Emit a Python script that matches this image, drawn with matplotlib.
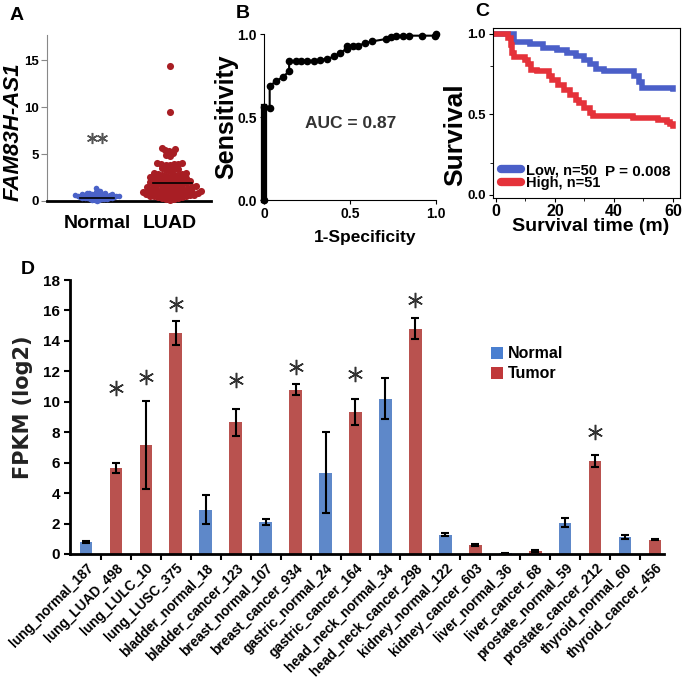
import numpy as np
import matplotlib
matplotlib.use('Agg')
import matplotlib.pyplot as plt
from matplotlib.lines import Line2D
from matplotlib.patches import Patch

plt.rcParams['font.family'] = ['Liberation Sans', 'DejaVu Sans']
plt.rcParams['font.weight'] = 'bold'
plt.rcParams['axes.labelweight'] = 'bold'

# ---- panel A: expression scatter ----
normal_vals = [1.4, 1.2, 1.1, 0.95, 0.9, 0.85, 0.8, 0.8, 0.75, 0.75, 0.7, 0.7, 0.7,
               0.65, 0.65, 0.6, 0.6, 0.6, 0.55, 0.55, 0.55, 0.5, 0.5, 0.5, 0.5,
               0.45, 0.45, 0.45, 0.4, 0.4, 0.4, 0.35, 0.35, 0.35, 0.3, 0.3, 0.3,
               0.25, 0.25, 0.2, 0.2, 0.15, 0.1, 0.1, 0.05]
luad_vals = [14.4, 9.5, 5.6, 5.5, 5.4, 5.3, 5.1, 4.9, 4.8, 4.0, 4.0, 3.9, 3.9, 3.9,
             3.8, 3.8, 3.5, 3.4, 3.4, 3.3, 3.2, 3.0, 3.0, 2.9, 2.9, 2.8, 2.8, 2.8,
             2.7, 2.6, 2.6, 2.5, 2.5, 2.4, 2.4, 2.3, 2.3, 2.2, 2.2, 2.1, 2.1, 2.0,
             2.0, 1.9, 1.9, 1.8, 1.8, 1.8, 1.7, 1.7, 1.6, 1.6, 1.5, 1.5, 1.5, 1.4,
             1.4, 1.3, 1.3, 1.3, 1.2, 1.2, 1.1, 1.1, 1.1, 1.0, 1.0, 1.0, 0.9, 0.9,
             0.9, 0.8, 0.8, 0.8, 0.7, 0.7, 0.7, 0.6, 0.6, 0.6, 0.5, 0.5, 0.5, 0.4,
             0.4, 0.3, 0.3, 0.2, 0.2, 0.1]
normal_center = 0.35
luad_center = 1.9

# ---- panel B: ROC ----
roc_fpr = [0, 0, 0.033, 0.033, 0.072, 0.11, 0.146, 0.146, 0.184, 0.217, 0.25, 0.29,
           0.324, 0.367, 0.408, 0.44, 0.48, 0.48, 0.515, 0.548, 0.59, 0.63, 0.71,
           0.74, 0.77, 0.81, 0.845, 0.92, 0.995, 1.0]
roc_tpr = [0, 0.56, 0.553, 0.688, 0.716, 0.742, 0.775, 0.835, 0.835, 0.839, 0.839,
           0.839, 0.845, 0.849, 0.865, 0.885, 0.91, 0.925, 0.925, 0.93, 0.946, 0.956,
           0.97, 0.98, 0.99, 0.99, 0.99, 0.99, 0.99, 1.0]

# ---- panel C: Kaplan-Meier ----
low_t = [0, 6, 11.6, 16, 20.7, 24, 27, 30, 32, 34, 36.5, 45.5, 46.7, 48.4, 49.5, 60]
low_s = [1.0, 0.95, 0.935, 0.915, 0.9, 0.88, 0.86, 0.835, 0.81, 0.785, 0.768, 0.768,
         0.737, 0.70, 0.664, 0.66]
high_t = [0, 3, 4, 5, 5.5, 6, 10, 11, 12, 14, 18, 19, 21, 23, 25, 27, 28, 30, 32, 33,
          46.5, 55, 58, 59, 60]
high_s = [1.0, 1.0, 0.975, 0.93, 0.88, 0.855, 0.84, 0.81, 0.778, 0.768, 0.737, 0.716,
          0.685, 0.653, 0.622, 0.59, 0.57, 0.54, 0.508, 0.49, 0.477, 0.465, 0.45,
          0.44, 0.43]

# ---- panel D: FPKM bars ----
tissues = ['lung_normal_187', 'lung_LUAD_498', 'lung_LULC_10', 'lung_LUSC_375',
           'bladder_normal_18', 'bladder_cancer_123', 'breast_normal_107',
           'breast_cancer_934', 'gastric_normal_24', 'gastric_cancer_164',
           'head_neck_normal_34', 'head_neck_cancer_298', 'kidney_normal_122',
           'kidney_cancer_603', 'liver_normal_36', 'liver_cancer_68',
           'prostate_normal_59', 'prostate_cancer_212', 'thyroid_normal_60',
           'thyroid_cancer_456']
is_tumor = [0, 1, 1, 1, 0, 1, 0, 1, 0, 1, 0, 1, 0, 1, 0, 1, 0, 1, 0, 1]
fpkm = [0.8, 5.65, 7.15, 14.5, 2.9, 8.65, 2.1, 10.8, 5.35, 9.35, 10.2, 14.8, 1.25,
        0.6, 0.05, 0.2, 2.05, 6.1, 1.1, 0.95]
fpkm_err = [0.08, 0.3, 2.9, 0.8, 0.95, 0.9, 0.2, 0.35, 2.65, 0.85, 1.35, 0.7, 0.1,
            0.05, 0.02, 0.05, 0.3, 0.4, 0.12, 0.05]
star_y = {1: 10.9, 2: 11.6, 3: 16.4, 5: 11.4, 7: 12.3, 9: 11.8, 11: 16.7, 17: 8.0}


def swarm(vals, d, ypx):
    vals = np.asarray(vals, dtype=float)
    xs = np.zeros(len(vals))
    placed = []
    for i in np.argsort(vals):
        y = vals[i] * ypx
        cands = [0.0]
        for px, py in placed:
            dy = abs(y - py)
            if dy < d:
                dx = np.sqrt(d * d - dy * dy)
                cands += [px - dx, px + dx]
        cands.sort(key=abs)
        for c in cands:
            if all((c - px) ** 2 + (y - py) ** 2 >= d * d - 1e-6 for px, py in placed):
                break
        xs[i] = c
        placed.append((c, y))
    return xs


fig = plt.figure(figsize=(6.85, 6.79), dpi=100)
star = (6, 2, 0)

# A
axA = fig.add_axes([0.0686, 0.704, 0.2394, 0.2445])
ypx, xpx = 9.4, 73.0
xn = swarm(normal_vals, 2.5, ypx) / xpx
xl = swarm(luad_vals, 4.1, ypx) / xpx
axA.scatter(0 + xn, normal_vals, s=16, color='#4a62c8', lw=0, clip_on=False, zorder=3)
axA.scatter(1 + xl, luad_vals, s=26, color='#a81e24', lw=0, clip_on=False, zorder=3)
axA.plot([-0.23, 0.23], [normal_center] * 2, color='k', lw=1.2, zorder=4)
axA.plot([0.76, 1.3], [luad_center] * 2, color='k', lw=1.2, zorder=4)
axA.plot([-0.07, 0.07], [6.7, 6.7], ls='none', marker=star, ms=8, mew=1.1, color='#555555')
axA.set_xlim(-0.685, 1.56)
axA.set_ylim(0, 17.7)
axA.set_yticks([0, 5, 10, 15])
axA.set_xticks([0, 1])
axA.set_xticklabels(['Normal', 'LUAD'], fontsize=14, fontweight='bold')
axA.tick_params(axis='x', length=0, pad=10)
axA.tick_params(axis='y', labelsize=9.5, color='#888888', length=4, pad=2)
for s in ['top', 'right']:
    axA.spines[s].set_visible(False)
axA.spines['left'].set_color('#888888')
axA.spines['bottom'].set_linewidth(2)
axA.set_ylabel('FAM83H-AS1', fontsize=16, style='italic', fontweight='bold')
axA.yaxis.set_label_coords(-0.14, 0.42)

# B
axB = fig.add_axes([0.3854, 0.7054, 0.2511, 0.2445])
axB.plot(roc_fpr, roc_tpr, '-o', color='k', lw=1.5, ms=4.5, clip_on=False, zorder=3)
axB.plot(roc_fpr[:2], roc_tpr[:2], color='k', lw=4.5, clip_on=False, zorder=3)
axB.text(0.24, 0.46, 'AUC = 0.87', fontsize=12.5, ha='left', va='center', fontweight='bold',
         color='#333333')
axB.set_xlim(0, 1)
axB.set_ylim(0, 1)
axB.set_xticks([0, 0.5, 1.0])
axB.set_xticklabels(['0', '0.5', '1.0'])
axB.set_yticks([0, 0.5, 1.0])
axB.set_yticklabels(['0.0', '0.5', '1.0'])
axB.tick_params(labelsize=10, length=3, pad=2)
for s in ['top', 'right']:
    axB.spines[s].set_visible(False)
axB.set_xlabel('1-Specificity', fontsize=12.5)
axB.xaxis.set_label_coords(0.59, -0.18)
axB.set_ylabel('Sensitivity', fontsize=18)
axB.yaxis.set_label_coords(-0.15, 0.5)

# C
axC = fig.add_axes([0.7197, 0.7084, 0.273, 0.2504])
axC.step(low_t, low_s, where='post', color='#4b5fc8', lw=4, solid_joinstyle='miter')
axC.step(high_t, high_s, where='post', color='#e5323a', lw=4, solid_joinstyle='miter')
axC.set_xlim(-1.0, 62.4)
axC.set_ylim(-0.02, 1.037)
axC.set_xticks([0, 20, 40, 60])
axC.set_xticks([10, 30, 50], minor=True)
axC.set_yticks([0, 0.5, 1.0])
axC.set_yticklabels(['0.0', '0.5', '1.0'])
axC.set_yticks([0.2, 0.8], minor=True)
axC.tick_params(axis='x', labelsize=11.5, length=3, pad=1)
axC.tick_params(axis='y', labelsize=9.5, length=3, pad=2)
axC.tick_params(which='minor', length=2)
axC.set_xlabel('Survival time (m)', fontsize=14)
axC.xaxis.set_label_coords(0.52, -0.12)
axC.set_ylabel('Survival', fontsize=19)
axC.yaxis.set_label_coords(-0.14, 0.37)
hC = [Line2D([], [], color='#4b5fc8', lw=6, solid_capstyle='round'),
      Line2D([], [], color='#e5323a', lw=6, solid_capstyle='round')]
axC.legend(hC, ['Low, n=50', 'High, n=51'], loc='lower left', bbox_to_anchor=(0.0, 0.0),
           frameon=False, prop={'size': 10.5, 'weight': 'bold'}, handlelength=1.4,
           handletextpad=0.3, labelspacing=-0.1, borderaxespad=0.15)
axC.text(37, 0.14, 'P = 0.008', fontsize=11, ha='left', va='center', fontweight='bold')

# D
axD = fig.add_axes([0.1022, 0.1841, 0.8672, 0.4035])
x = np.arange(len(tissues))
cols = ['#b9524f' if t else '#5e88c9' for t in is_tumor]
axD.bar(x, fpkm, width=0.42, color=cols, zorder=2)
axD.errorbar(x, fpkm, yerr=fpkm_err, fmt='none', ecolor='k', elinewidth=1.5,
             capsize=3, capthick=1.5, zorder=3)
for i, yv in star_y.items():
    axD.plot(x[i], yv, marker=star, ms=11, mew=1.1, color='#333333', zorder=3)
axD.set_xlim(-0.53, 19.3)
axD.set_ylim(0, 18)
axD.set_yticks(range(0, 19, 2))
axD.tick_params(axis='y', labelsize=11, width=1.5, length=4, pad=3)
axD.set_xticks(x)
axD.set_xticklabels(tissues, rotation=45, ha='right', va='top', rotation_mode='anchor',
                    fontsize=9.8, fontweight='bold')
axD.set_xticks(x[:-1] + 0.5, minor=True)
axD.tick_params(axis='x', which='major', length=0, pad=5)
axD.tick_params(axis='x', which='minor', length=4, width=1.5)
for s in ['top', 'right']:
    axD.spines[s].set_visible(False)
axD.spines['left'].set_linewidth(2)
axD.spines['bottom'].set_linewidth(2)
axD.set_ylabel('FPKM (log2)', fontsize=15, family='DejaVu Sans', fontweight='bold',
               color='#222222')
axD.yaxis.set_label_coords(-0.062, 0.536)
hD = [Patch(facecolor='#4a7fd0'), Patch(facecolor='#c0383a')]
axD.legend(hD, ['Normal', 'Tumor'], loc='upper left', bbox_to_anchor=(0.684, 0.81),
           frameon=False, prop={'size': 11.5, 'weight': 'bold'}, handlelength=0.8,
           handleheight=0.8, handletextpad=0.3, labelspacing=0.3)

for lab, px, py in [('A', 17, 15), ('B', 243, 13), ('C', 482, 12), ('D', 28, 270)]:
    fig.text(px / 685, 1 - py / 679, lab, fontsize=14, ha='center', va='center',
             fontweight='bold')

fig.savefig('out.png', dpi=100)
